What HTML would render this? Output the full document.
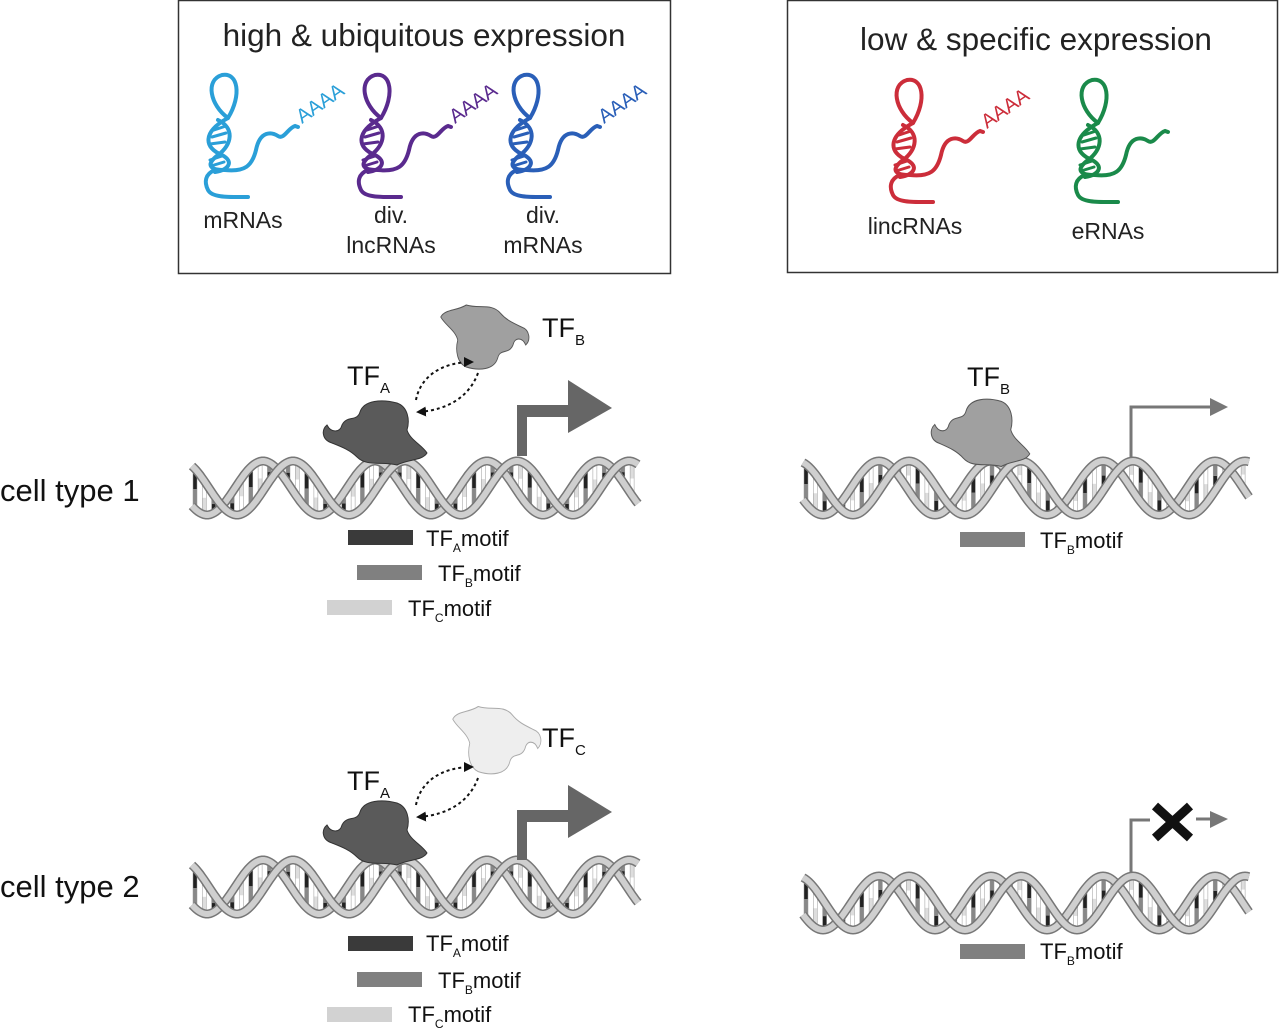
<!DOCTYPE html>
<html><head><meta charset="utf-8"><style>
html,body{margin:0;padding:0;background:#fff;}
svg{display:block;font-family:"Liberation Sans",Arial,sans-serif;}
</style></head><body>
<svg id="s" width="1280" height="1031" viewBox="0 0 1280 1031" xmlns="http://www.w3.org/2000/svg">
<defs>
<g id="rna" fill="none" stroke-linecap="round">
<path d="M28 48 C10 35 5 10 22 5 C38 2 42 25 28 48"/>
<path d="M28 48 C2 62 4 78 22 85 C35 92 28 100 15 102"/>
<path d="M18 50 C35 58 32 75 18 85 C5 95 10 100 25 100"/>
<path d="M15 100 C5 104 4 112 8 120 C12 128 30 127 48 127"/>
<path d="M25 100 C45 102 52 96 56 80 C60 60 72 62 78 66 C84 70 88 58 95 56 L98 57"/>
<path d="M14 60 L26 56 M12 67 L26 63 M10 74 L25 72 M10 90 L22 86 M11 96 L24 92" stroke-width="3"/>
</g>
<path id="blob" d="M20 30 C25 20 35 27 38 17 C42 5 60 4 75 8 C86 12 88 25 85 35 C88 45 100 50 105 58 C100 66 86 64 75 70 C60 66 45 72 35 62 C28 55 20 52 10 48 C0 45 -1 35 5 30 C9 38 18 38 20 30 Z"/>
<marker id="ah" viewBox="0 0 10 10" refX="8" refY="5" markerWidth="5" markerHeight="5" orient="auto"><path d="M0 0 L10 5 L0 10 Z" fill="#111"/></marker>
</defs>

<rect x="178.5" y="0.5" width="492" height="273" fill="none" stroke="#333" stroke-width="1.5"/>
<rect x="787.5" y="0.5" width="490" height="272" fill="none" stroke="#333" stroke-width="1.5"/>
<text x="424" y="46" font-size="31.5" text-anchor="middle" fill="#222">high &amp; ubiquitous expression</text>
<text x="1036" y="50" font-size="31.5" text-anchor="middle" fill="#222">low &amp; specific expression</text>

<use href="#rna" transform="translate(200,70)" stroke="#2a9fd8" stroke-width="4"/>
<text transform="translate(302,124) rotate(-35)" font-size="20" fill="#2a9fd8">AAAA</text>
<use href="#rna" transform="translate(353,70)" stroke="#5a2a8e" stroke-width="4"/>
<text transform="translate(455,124) rotate(-35)" font-size="20" fill="#5a2a8e">AAAA</text>
<use href="#rna" transform="translate(502,70)" stroke="#2a5fb8" stroke-width="4"/>
<text transform="translate(604,124) rotate(-35)" font-size="20" fill="#2a5fb8">AAAA</text>
<use href="#rna" transform="translate(885,75)" stroke="#cc2d3a" stroke-width="4"/>
<text transform="translate(987,129) rotate(-35)" font-size="20" fill="#cc2d3a">AAAA</text>
<use href="#rna" transform="translate(1070,75)" stroke="#1a8a4a" stroke-width="4"/>

<g font-size="23" fill="#222" text-anchor="middle">
<text x="243" y="228">mRNAs</text>
<text x="391" y="223">div.</text><text x="391" y="253">lncRNAs</text>
<text x="543" y="223">div.</text><text x="543" y="253">mRNAs</text>
<text x="915" y="234">lincRNAs</text>
<text x="1108" y="239">eRNAs</text>
</g>

<g font-size="31" fill="#111">
<text x="0" y="501">cell type 1</text>
<text x="0" y="897">cell type 2</text>
</g>

<g id="helices"></g>

<use href="#blob" transform="translate(322,395)" fill="#5a5a5a" stroke="#333" stroke-width="1"/>
<use href="#blob" transform="translate(530,375) rotate(180) scale(0.85,1.0)" fill="#a0a0a0" stroke="#555" stroke-width="1"/>
<use href="#blob" transform="translate(930,393) scale(0.95,1.05)" fill="#a0a0a0" stroke="#555" stroke-width="1"/>
<use href="#blob" transform="translate(542,780) rotate(180) scale(0.85,1.05)" fill="#eeeeee" stroke="#aaa" stroke-width="1"/>
<use href="#blob" transform="translate(322,795)" fill="#5a5a5a" stroke="#333" stroke-width="1"/>

<g font-size="27" fill="#111">
<text x="347" y="385">TF<tspan font-size="15" dy="8">A</tspan></text>
<text x="542" y="337">TF<tspan font-size="15" dy="8">B</tspan></text>
<text x="967" y="386">TF<tspan font-size="15" dy="8">B</tspan></text>
<text x="542" y="747">TF<tspan font-size="15" dy="8">C</tspan></text>
<text x="347" y="790">TF<tspan font-size="15" dy="8">A</tspan></text>
</g>

<g fill="none" stroke="#111" stroke-width="2" stroke-dasharray="3,3">
<path d="M416 400 C420 378 440 362 472 362" marker-end="url(#ah)"/>
<path d="M478 373 C470 395 450 410 418 412" marker-end="url(#ah)"/>
<path d="M416 805 C420 783 440 767 472 767" marker-end="url(#ah)"/>
<path d="M478 778 C470 800 450 815 418 817" marker-end="url(#ah)"/>
</g>

<g fill="#666">
<path d="M517 456 L517 405 L570 405 L570 417 L527 417 L527 456 Z"/>
<path d="M568 380 L612 408 L568 433 Z"/>
<path d="M517 860 L517 810 L570 810 L570 822 L527 822 L527 860 Z"/>
<path d="M568 785 L612 812 L568 838 Z"/>
</g>
<g fill="none" stroke="#777" stroke-width="3">
<path d="M1131 458 L1131 407 L1212 407"/>
<path d="M1131 872 L1131 820 L1150 820"/>
<path d="M1196 819 L1212 819"/>
</g>
<path d="M1210 398 L1228 407 L1210 416 Z" fill="#777"/>
<path d="M1210 811 L1228 819 L1210 828 Z" fill="#777"/>
<path d="M1155 806 L1190 838 M1190 806 L1155 838" stroke="#111" stroke-width="9"/>

<g font-size="22" fill="#111">
<rect x="348" y="530" width="65" height="15" fill="#3a3a3a"/>
<text x="426" y="546">TF<tspan font-size="12" dy="6">A</tspan><tspan dy="-6">motif</tspan></text>
<rect x="357" y="565" width="65" height="15" fill="#808080"/>
<text x="438" y="581">TF<tspan font-size="12" dy="6">B</tspan><tspan dy="-6">motif</tspan></text>
<rect x="327" y="600" width="65" height="15" fill="#d2d2d2"/>
<text x="408" y="616">TF<tspan font-size="12" dy="6">C</tspan><tspan dy="-6">motif</tspan></text>

<rect x="960" y="532" width="65" height="15" fill="#808080"/>
<text x="1040" y="548">TF<tspan font-size="12" dy="6">B</tspan><tspan dy="-6">motif</tspan></text>

<rect x="348" y="936" width="65" height="15" fill="#3a3a3a"/>
<text x="426" y="951">TF<tspan font-size="12" dy="6">A</tspan><tspan dy="-6">motif</tspan></text>
<rect x="357" y="972" width="65" height="15" fill="#808080"/>
<text x="438" y="988">TF<tspan font-size="12" dy="6">B</tspan><tspan dy="-6">motif</tspan></text>
<rect x="327" y="1007" width="65" height="15" fill="#d2d2d2"/>
<text x="408" y="1022">TF<tspan font-size="12" dy="6">C</tspan><tspan dy="-6">motif</tspan></text>

<rect x="960" y="944" width="65" height="15" fill="#808080"/>
<text x="1040" y="959">TF<tspan font-size="12" dy="6">B</tspan><tspan dy="-6">motif</tspan></text>
</g>
</svg>
<script>
(function(){
var NS="http://www.w3.org/2000/svg",g=document.getElementById("helices");
function el(t,a){var e=document.createElementNS(NS,t);for(var k in a)e.setAttribute(k,a[k]);return e;}
function helix(x0,x1,yc,peak){
  var P=112,A=27,off=30;
  function y1(x){return yc-A*Math.cos(2*Math.PI*(x-peak)/P);}
  function y2(x){return yc-A*Math.cos(2*Math.PI*(x-peak+off)/P);}
  var cols=["#222","#fff","#888","#ddd"],i=0;
  for(var x=x0+3;x<x1;x+=9.3){
    var a=y1(x),b=y2(x),m=(a+b)/2;
    g.appendChild(el("line",{x1:x,y1:a,x2:x,y2:m,stroke:cols[i%4],"stroke-width":4}));
    g.appendChild(el("line",{x1:x,y1:m,x2:x,y2:b,stroke:cols[(i+2)%4],"stroke-width":4}));
    g.appendChild(el("rect",{x:x-2,y:Math.min(a,b),width:4,height:Math.abs(a-b),fill:"none",stroke:"#999","stroke-width":0.5}));
    i++;
  }
  [y2,y1].forEach(function(f){
    var d="M"+x0+" "+f(x0);
    for(var x=x0+2;x<=x1;x+=2)d+=" L"+x+" "+f(x).toFixed(1);
    g.appendChild(el("path",{d:d,fill:"none",stroke:"#777","stroke-width":9}));
    g.appendChild(el("path",{d:d,fill:"none",stroke:"#cfcfcf","stroke-width":6}));
  });
}
helix(192,638,488,517);
helix(803,1250,488,1133);
helix(192,638,887,517);
helix(803,1250,903,1133);
})();
</script>
</body></html>
